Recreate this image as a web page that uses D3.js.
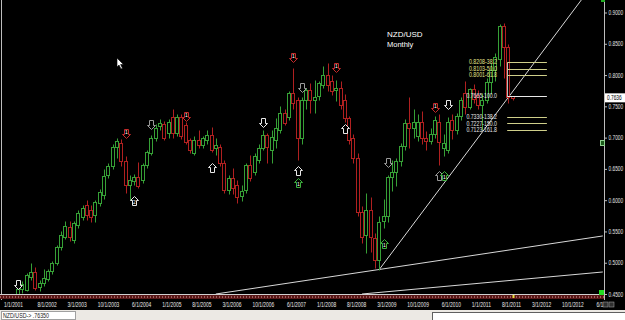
<!DOCTYPE html>
<html><head><meta charset="utf-8">
<script src="https://cdn.jsdelivr.net/npm/d3@7"></script>
<style>
html,body{margin:0;padding:0;background:#000;overflow:hidden}
svg{display:block}
text{font-family:"Liberation Sans",Arial,sans-serif}
</style></head><body>
<svg id="chart" width="625" height="320"></svg>
<script>
// monthly bars, Mar 2002 .. Oct 2011
var months = d3.timeMonth.range(new Date(2002, 2, 1), new Date(2011, 10, 1)).map(d3.timeFormat("%Y-%m"));

var opens = [
  .450,.458,.457,.477,.485,.461,.467,.474,.487,.500,            // 2002
  .525,.541,.557,.537,.561,.573,.592,.585,.576,.595,.608,.640,  // 2003
  .655,.685,.692,.662,.625,.630,.637,.632,.656,.676,.700,.719,  // 2004
  .722,.707,.733,.708,.733,.720,.696,.676,.696,.688,.696,.704,  // 2005
  .684,.685,.660,.616,.635,.625,.606,.616,.656,.645,.664,.684,  // 2006
  .704,.680,.696,.712,.740,.733,.771,.760,.700,.760,.776,.760,  // 2007
  .767,.784,.800,.790,.776,.780,.760,.731,.700,.667,.581,.545,  // 2008
  .585,.540,.505,.567,.575,.637,.645,.662,.686,.723,.715,.702,  // 2009
  .725,.700,.695,.705,.725,.684,.680,.728,.712,.735,.772,.749,  // 2010
  .778,.768,.752,.760,.789,.808,.826,.878,.845,.766             // 2011
];
var highs = [
  .462,.470,.483,.500,.493,.472,.490,.490,.503,.528,
  .551,.567,.567,.566,.585,.592,.600,.592,.600,.618,.650,.660,
  .690,.700,.698,.670,.640,.642,.661,.660,.680,.704,.722,.730,
  .726,.730,.746,.737,.738,.725,.700,.702,.712,.703,.712,.717,
  .700,.690,.665,.640,.652,.632,.625,.660,.672,.676,.690,.712,
  .708,.712,.731,.750,.745,.775,.811,.765,.765,.780,.787,.792,
  .790,.815,.820,.800,.792,.790,.770,.735,.705,.675,.590,.611,
  .605,.548,.575,.602,.640,.665,.668,.692,.730,.765,.745,.737,
  .742,.710,.715,.735,.737,.705,.733,.737,.740,.765,.790,.780,
  .785,.776,.772,.795,.820,.835,.882,.884,.850,.767
];
var lows = [
  .448,.452,.454,.472,.456,.455,.462,.470,.482,.497,
  .520,.538,.535,.532,.556,.568,.568,.565,.565,.590,.602,.635,
  .650,.668,.655,.612,.600,.625,.620,.628,.652,.672,.695,.712,
  .696,.700,.700,.703,.698,.690,.675,.672,.684,.684,.690,.677,
  .672,.655,.612,.610,.610,.595,.598,.612,.630,.640,.660,.680,
  .660,.660,.683,.708,.720,.728,.745,.664,.690,.745,.740,.740,
  .760,.780,.775,.768,.758,.745,.725,.690,.660,.575,.532,.515,
  .517,.492,.489,.555,.565,.615,.622,.655,.680,.683,.700,.695,
  .690,.680,.690,.700,.656,.670,.675,.697,.705,.728,.738,.745,
  .755,.745,.712,.755,.770,.790,.815,.795,.755,.760
];
var closes = [
  .458,.466,.480,.485,.460,.467,.476,.486,.500,.525,
  .545,.559,.541,.563,.580,.587,.576,.573,.597,.613,.638,.655,
  .685,.695,.662,.625,.632,.637,.622,.656,.677,.700,.716,.724,
  .700,.725,.707,.733,.702,.693,.680,.696,.688,.699,.704,.680,
  .688,.660,.616,.635,.620,.605,.614,.656,.636,.671,.684,.704,
  .685,.701,.715,.740,.724,.771,.755,.700,.760,.776,.760,.765,
  .787,.800,.784,.775,.780,.752,.731,.696,.668,.581,.541,.584,
  .541,.505,.565,.575,.637,.645,.662,.686,.723,.715,.725,.725,
  .700,.695,.705,.728,.693,.692,.725,.712,.735,.760,.749,.778,
  .762,.752,.760,.789,.808,.829,.878,.845,.765,.7636
];

var priceTicks = [0.45, 0.50, 0.55, 0.60, 0.65, 0.70, 0.75, 0.80, 0.85, 0.90];
var dateTicks = ["2002-08","2003-03","2003-10","2004-06","2005-01","2005-08","2006-03","2006-10","2007-06",
                 "2008-01","2008-08","2009-03","2009-10","2010-06","2011-01","2011-08","2012-03","2012-10","2013-06"];
var firstDate = "1/1/2001";
var lastPrice = 0.7636;

// signal arrows: month, price, direction, colour, label
var arrows = [
  ["2002-03", 0.464, "down", "white", ""],
  ["2004-04", 0.705, "down", "red",   "1"],
  ["2004-06", 0.600, "up",   "white", "2"],
  ["2004-10", 0.720, "down", "gray",  ""],
  ["2005-06", 0.733, "down", "red",   "1"],
  ["2005-12", 0.653, "up",   "white", ""],
  ["2006-12", 0.723, "down", "white", ""],
  ["2007-07", 0.827, "down", "red",   "1"],
  ["2007-08", 0.648, "up",   "white", ""],
  ["2007-08", 0.629, "up",   "green", "1"],
  ["2007-09", 0.779, "down", "gray",  ""],
  ["2008-05", 0.811, "down", "red",   "1"],
  ["2008-07", 0.715, "up",   "white", ""],
  ["2009-05", 0.659, "down", "gray",  ""],
  ["2009-04", 0.531, "up",   "green", "1"],
  ["2010-04", 0.747, "down", "red",   "1"],
  ["2010-05", 0.640, "up",   "gray",  ""],
  ["2010-06", 0.640, "up",   "green", "1"],
  ["2010-07", 0.752, "down", "white", ""]
];

// fibonacci levels
var fibPrices = [0.8208, 0.8103, 0.8001, 0.7665, 0.7330, 0.7227, 0.7123];
var fibPcts   = ["38.2", "50.0", "61.8", "100.0", "138.2", "150.0", "161.8"];
var fibFrom = "2011-09", fibTo = "2012-06";

// trend lines: [month, price] pairs
var trendLines = [
  [["2009-03", 0.489], ["2013-02", 0.920]],
  [["2006-01", 0.450], ["2013-07", 0.5428]],
  [["2008-11", 0.450], ["2013-07", 0.4852]]
];

var colors = {up: "#36a036", down: "#b02020", white: "#e8e8e8", gray: "#9a9a9a", red: "#c42a2a", green: "#3cb03c"};

var svg = d3.select("#chart");
svg.append("rect").attr("width", 625).attr("height", 320).attr("fill", "#000");

var y = d3.scaleLinear().domain([0.45, 0.90]).range([294, 12.5]);
var x = d3.scaleLinear().domain([0, 1]).range([39.5, 43.8]);   // month index from Aug 2002
function mIdx(s) { var p = s.split("-"); return (+p[0] - 2002) * 12 + (+p[1] - 8); }
function px(s) { return Math.round(x(mIdx(s))) + 0.5; }
function py(v) { return Math.round(y(v)) + 0.5; }

svg.append("clipPath").attr("id", "plot").append("rect")
  .attr("x", 2).attr("y", 0).attr("width", 602).attr("height", 294);
var plot = svg.append("g").attr("clip-path", "url(#plot)");

// trend lines
plot.selectAll("line.trend").data(trendLines).enter().append("line")
  .attr("class", "trend")
  .attr("x1", d => x(mIdx(d[0][0]))).attr("y1", d => y(d[0][1]))
  .attr("x2", d => x(mIdx(d[1][0]))).attr("y2", d => y(d[1][1]))
  .attr("stroke", "#d8d8d8").attr("stroke-width", 1);

// candles
var bars = months.map(function(m, i) {
  return {m: m, o: opens[i], h: highs[i], l: lows[i], c: closes[i]};
});
var bar = plot.selectAll("g.bar").data(bars).enter().append("g").attr("class", "bar");
bar.append("line")
  .attr("x1", d => px(d.m)).attr("x2", d => px(d.m))
  .attr("y1", d => py(d.h)).attr("y2", d => py(d.l))
  .attr("stroke", d => d.c >= d.o ? colors.up : colors.down);
bar.append("rect")
  .attr("x", d => px(d.m) - 2).attr("width", 3)
  .attr("y", d => py(Math.max(d.o, d.c)))
  .attr("height", d => Math.max(1, py(Math.min(d.o, d.c)) - py(Math.max(d.o, d.c))))
  .attr("fill", "#000")
  .attr("stroke", d => d.c >= d.o ? colors.up : colors.down);

// fib retracement
var fx1 = x(mIdx(fibFrom)) - 1, fx2 = x(mIdx(fibTo));
plot.append("line").attr("x1", Math.round(fx1) + 0.5).attr("x2", Math.round(fx1) + 0.5)
  .attr("y1", py(fibPrices[0])).attr("y2", py(fibPrices[3])).attr("stroke", "#bcbcbc");
var fib = plot.selectAll("g.fib").data(fibPrices).enter().append("g").attr("class", "fib");
fib.append("line")
  .attr("x1", fx1).attr("x2", fx2)
  .attr("y1", d => py(d)).attr("y2", d => py(d))
  .attr("stroke", (d, i) => i === 3 ? "#e8e8e8" : "#cfcf8a");
fib.append("text")
  .attr("x", 497).attr("y", d => y(d) + 2.3)
  .attr("text-anchor", "end")
  .attr("font-size", 6.5)
  .attr("fill", (d, i) => i < 3 ? "#e4e48a" : "#e8e8e8")
  .attr("textLength", (d, i) => (d.toFixed(4) + "-" + fibPcts[i]).length * 2.55)
  .attr("lengthAdjust", "spacingAndGlyphs")
  .text((d, i) => d.toFixed(4) + "-" + fibPcts[i]);

// arrows
function arrowPath(cx, cy, dir) {
  var s = dir === "down" ? 1 : -1;
  return "M" + (cx - 2) + "," + (cy - 5 * s) + "H" + (cx + 2) + "V" + cy + "H" + (cx + 4) +
         "L" + cx + "," + (cy + 4 * s) + "L" + (cx - 4) + "," + cy + "H" + (cx - 2) + "Z";
}
var arr = plot.selectAll("g.arrow").data(arrows).enter().append("g").attr("class", "arrow");
arr.append("path")
  .attr("d", d => arrowPath(px(d[0]), Math.round(y(d[1])) + 0.5, d[2]))
  .attr("fill", "#000").attr("stroke", d => colors[d[3]]);
arr.append("text")
  .attr("x", d => px(d[0]))
  .attr("y", d => y(d[1]) + (d[2] === "down" ? 0 : 4))
  .attr("text-anchor", "middle").attr("font-size", 5).attr("fill", "#fff")
  .text(d => d[4]);

// plot frame and bottom band
svg.append("line").attr("x1", 1.5).attr("x2", 1.5).attr("y1", 0).attr("y2", 300).attr("stroke", "#bdbdbd");
svg.append("line").attr("x1", 0).attr("x2", 604).attr("y1", 294.5).attr("y2", 294.5).attr("stroke", "#cfcfcf");
svg.append("rect").attr("x", 0).attr("y", 295).attr("width", 604).attr("height", 4).attr("fill", "#581616");
svg.append("line").attr("x1", 0).attr("x2", 604).attr("y1", 297).attr("y2", 297)
  .attr("stroke", "#e0a8a8").attr("stroke-dasharray", "1,2");
svg.append("rect").attr("x", px("2011-10") - 1).attr("y", 295).attr("width", 2).attr("height", 3).attr("fill", "#e8e040");

// right price axis
var yAxis = svg.append("g").attr("transform", "translate(604,0)")
  .call(d3.axisRight(y).tickValues(priceTicks).tickFormat(d3.format(".4f")).tickSize(3).tickSizeOuter(0));
yAxis.select(".domain").remove();
yAxis.selectAll("line").attr("stroke", "#bdbdbd");
yAxis.selectAll("text").attr("x", 0).attr("dy", "0.32em").attr("fill", "#e0e0e0")
  .attr("font-size", 6.5).attr("transform", "translate(4.5,0) scale(0.74,1)");
svg.append("line").attr("x1", 604.5).attr("x2", 604.5).attr("y1", 0).attr("y2", 300).attr("stroke", "#bdbdbd");

// last price tag
svg.append("rect").attr("x", 605).attr("y", y(lastPrice) - 4.5).attr("width", 20).attr("height", 9).attr("fill", "#fff");
svg.append("text").attr("x", 0).attr("y", 0).attr("font-size", 6.5).attr("fill", "#000")
  .attr("transform", "translate(607," + (y(lastPrice) + 2.3) + ") scale(0.74,1)")
  .text(lastPrice.toFixed(4));

// bottom date axis
svg.append("clipPath").attr("id", "dates").append("rect").attr("x", 0).attr("y", 299).attr("width", 603).attr("height", 12);
var xAxis = svg.append("g").attr("clip-path", "url(#dates)").append("g").attr("transform", "translate(0,300)")
  .call(d3.axisBottom(x).tickValues(dateTicks.map(mIdx)).tickSize(0)
    .tickFormat(function(i) {
      var s = dateTicks[dateTicks.map(mIdx).indexOf(i)].split("-");
      return (+s[1]) + "/1/" + s[0];
    }));
xAxis.select(".domain").remove();
xAxis.selectAll("text").attr("text-anchor", "start").attr("x", -2.5).attr("y", 7).attr("dy", 0)
  .attr("fill", "#e8e8e8").attr("font-size", 6.5)
  .attr("textLength", function() { return this.textContent.length * 2.4; })
  .attr("lengthAdjust", "spacingAndGlyphs");
svg.append("text").attr("x", 4).attr("y", 307).attr("font-size", 6.5).attr("fill", "#e8e8e8")
  .attr("textLength", 19).attr("lengthAdjust", "spacingAndGlyphs").text(firstDate);

// title
svg.append("text").attr("x", 387).attr("y", 36.5).attr("font-size", 8).attr("fill", "#fff").text("NZD/USD");
svg.append("text").attr("x", 387).attr("y", 46.5).attr("font-size", 7.5).attr("fill", "#fff").text("Monthly");

// small markers at the right edge
svg.append("rect").attr("x", 599).attr("y", 290).attr("width", 5).attr("height", 5).attr("fill", "#22dd22");
svg.append("rect").attr("x", 600.5).attr("y", 140.5).attr("width", 4).attr("height", 5).attr("fill", "#1a5c1a").attr("stroke", "#8fd08f");
svg.append("rect").attr("x", 601).attr("y", 0).attr("width", 4).attr("height", 2).attr("fill", "#22aa22");
svg.append("rect").attr("x", 603).attr("y", 302).attr("width", 5).attr("height", 5).attr("fill", "#303030").attr("stroke", "#aaa").attr("stroke-width", 0.5);
svg.append("rect").attr("x", 609).attr("y", 302).attr("width", 5).attr("height", 5).attr("fill", "#303030").attr("stroke", "#aaa").attr("stroke-width", 0.5);

// mouse cursor
svg.append("path").attr("d", "M117,58 L117,67 L119,65 L121,69 L122.5,68.3 L120.6,64.5 L123.5,64.5 Z")
  .attr("fill", "#fff").attr("stroke", "#000").attr("stroke-width", 0.6);

// status strip
svg.append("rect").attr("x", 0).attr("y", 310).attr("width", 625).attr("height", 10).attr("fill", "#ece9e4");
svg.append("rect").attr("x", 1.5).attr("y", 311.5).attr("width", 74).attr("height", 8).attr("fill", "#fff").attr("stroke", "#a0a0a0");
svg.append("text").attr("x", 3).attr("y", 318).attr("font-size", 6.5).attr("fill", "#222")
  .attr("textLength", 46).attr("lengthAdjust", "spacingAndGlyphs").text("NZD/USD-> .76350");
svg.append("rect").attr("x", 432.5).attr("y", 312.5).attr("width", 193).attr("height", 8).attr("fill", "#fff").attr("stroke", "#606060");
</script></body></html>
